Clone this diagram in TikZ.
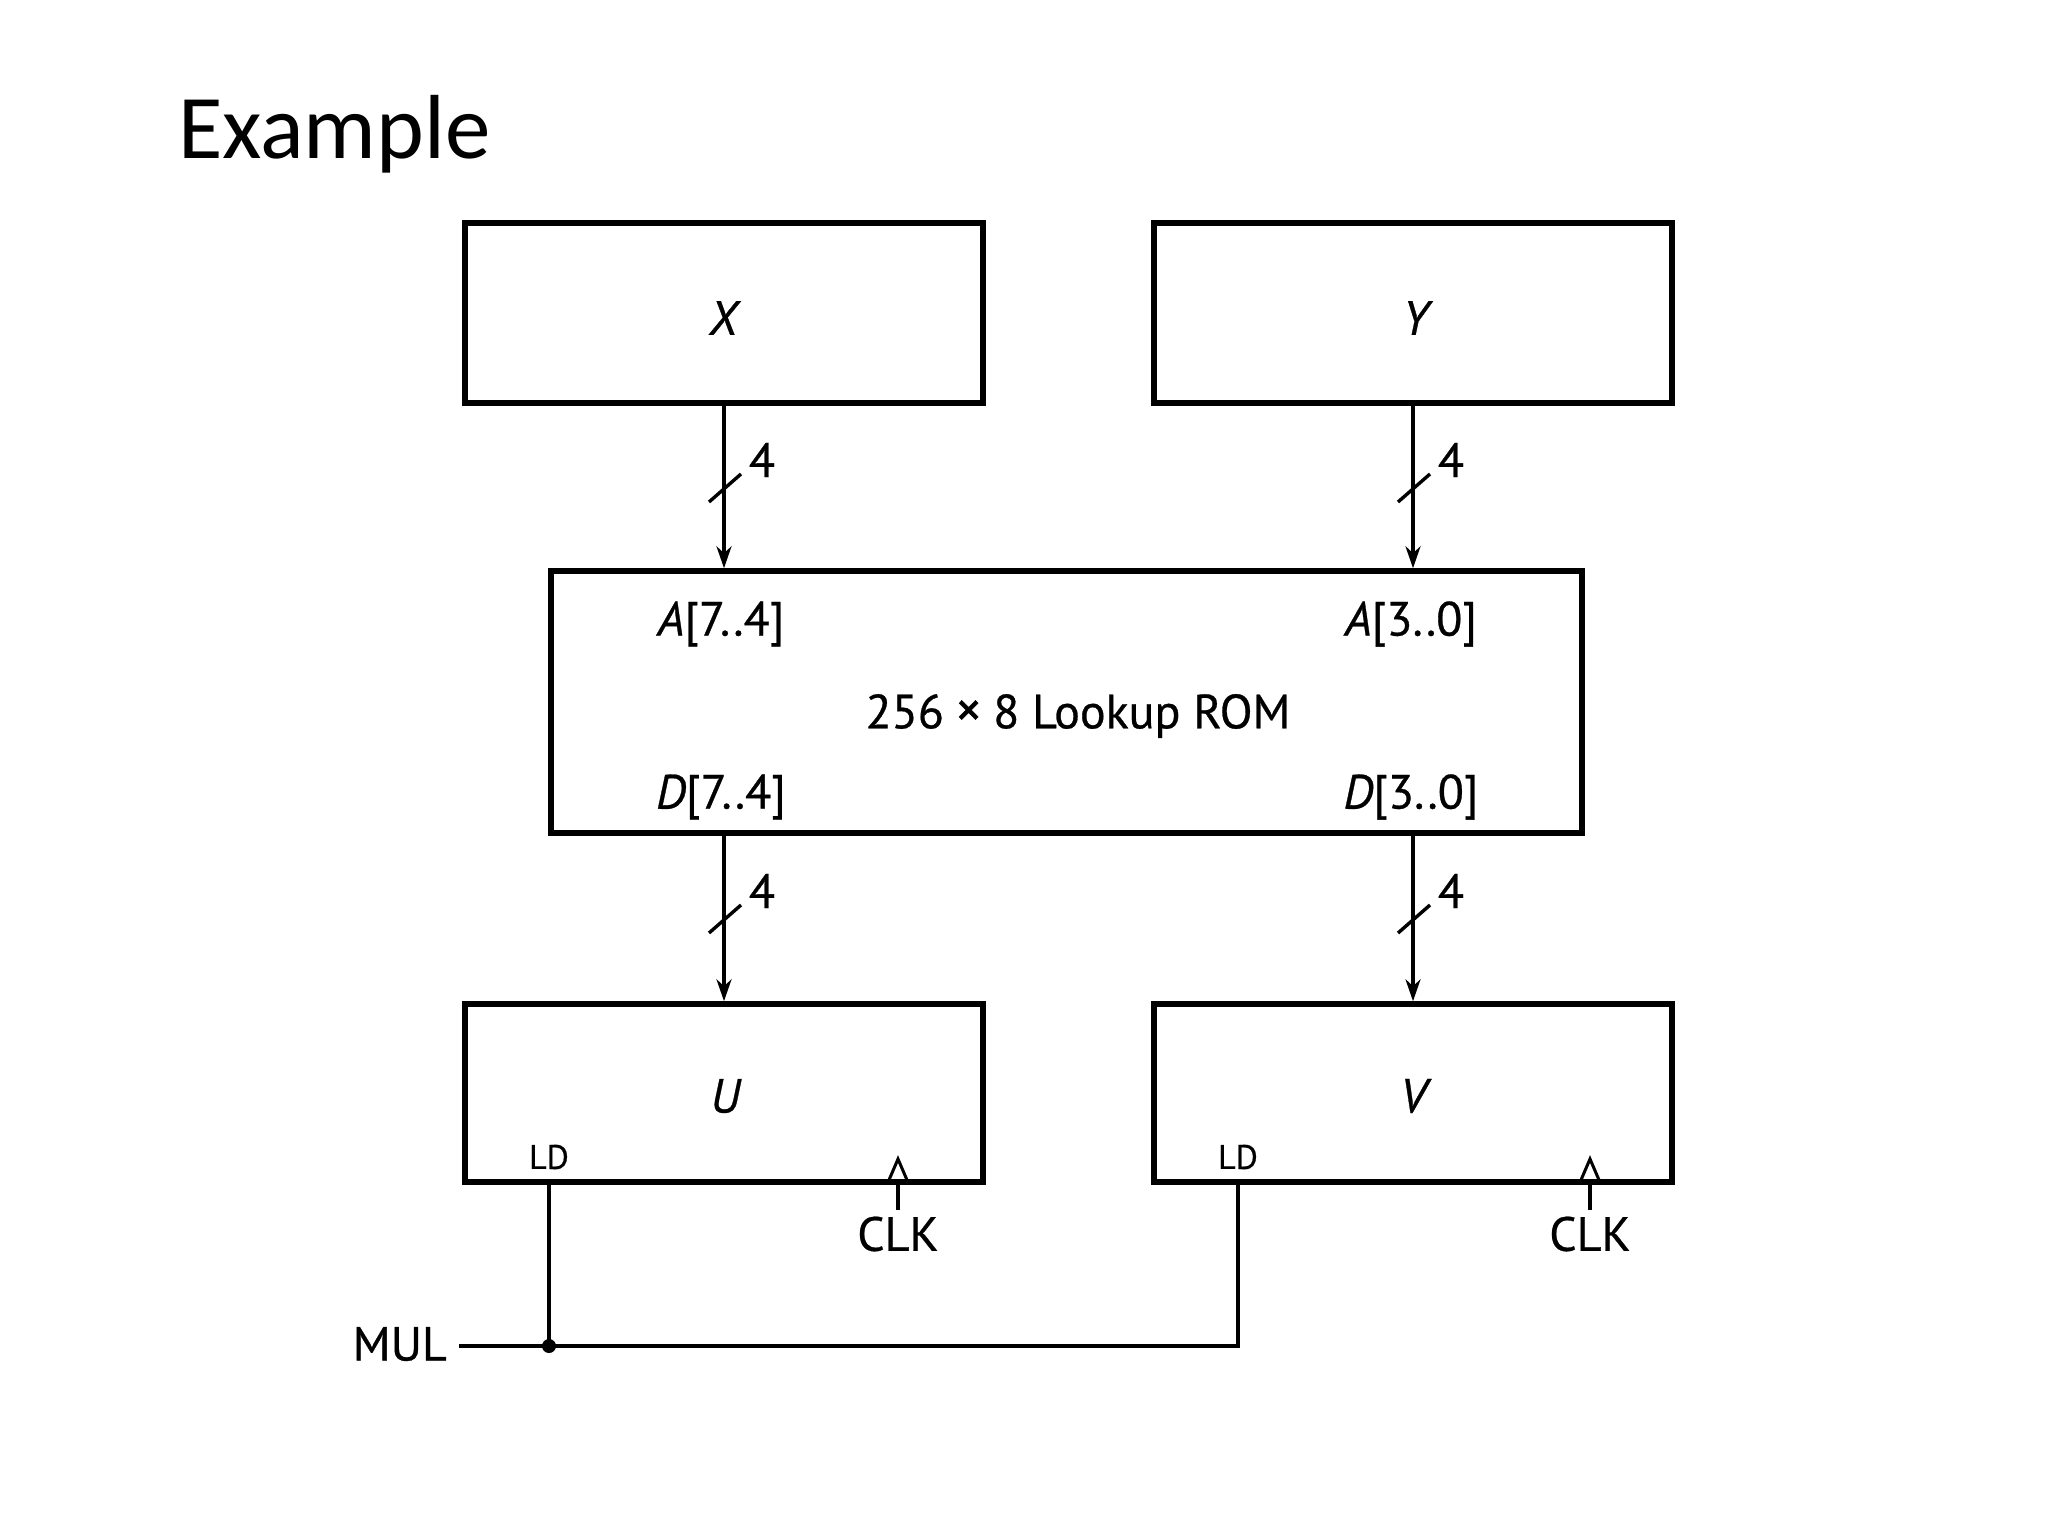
\documentclass[tikz,border=0pt]{standalone}
\usepackage{fontspec}
\setmainfont{PT Sans}[FakeBold=0.6]
\newfontfamily\titlefont{Carlito}
\usetikzlibrary{arrows.meta,calc}
\begin{document}
\begin{tikzpicture}[x=1pt,y=-1pt,
  blk/.style={draw,line width=5.5pt,inner sep=0pt},
  bus/.style={line width=4pt,-{Stealth[length=22pt,width=15pt]}},
  wire/.style={line width=3.4pt},
  lbl/.style={font=\fontsize{48}{52}\selectfont,inner sep=0pt},
  small/.style={font=\fontsize{34}{36}\selectfont,inner sep=0pt}]
\useasboundingbox[fill=white] (0,0) rectangle (2048,1536);
% title
\node[anchor=base west,inner sep=0pt,font=\titlefont\fontsize{91}{100}\selectfont] (title) at (178,159) {Example};
% blocks
\node[blk,minimum width=518pt,minimum height=180pt] (X) at (724,313) {};
\node[blk,minimum width=518pt,minimum height=180pt] (Y) at (1413,313) {};
\node[blk,minimum width=1031pt,minimum height=262pt] (ROM) at (1066.5,702) {};
\node[blk,minimum width=518pt,minimum height=178pt] (U) at (724,1093) {};
\node[blk,minimum width=518pt,minimum height=178pt] (V) at (1413,1093) {};
% block labels
\node[lbl] (xl) at (725,318) {\textit{X}};
\node[lbl] (yl) at (1418,318) {\textit{Y}};
\node[lbl] (ul) at (726,1096) {\textit{U}};
\node[lbl] (vl) at (1416,1096) {\textit{V}};
\node[lbl] (a74) at (721,624) {\textit{A}[7..4]};
\node[lbl] (a30) at (1411,624) {\textit{A}[3..0]};
\node[lbl] (d74) at (721,797) {\textit{D}[7..4]};
\node[lbl] (d30) at (1411,797) {\textit{D}[3..0]};
\node[lbl] (romlbl) at (1078,716) {256\hspace{11pt}{\fontsize{54}{54}\selectfont ×}\hspace{11pt}8 Lookup ROM};
% buses
\draw[bus] (X.south) -- (X.south |- ROM.north);
\draw[bus] (Y.south) -- (Y.south |- ROM.north);
\draw[bus] (ROM.south -| X.south) -- (X.south |- U.north);
\draw[bus] (ROM.south -| Y.south) -- (Y.south |- V.north);
% bus slashes
\foreach \n/\cx/\cy in {s1/725/488, s2/1414/488, s3/725/919, s4/1414/919}{
  \coordinate (\n) at (\cx,\cy);
  \draw[wire] ($(\n)+(-16,14)$) -- ($(\n)+(16,-14)$);
  \node[lbl] at ($(\n)+(37,-28)$) {4};
}
% LD labels
\node[small] (ldul) at (549,1157) {LD};
\node[small] (ldvl) at (1238,1157) {LD};
% clock inputs
\foreach \n/\cx in {cu/898, cv/1590}{
  \coordinate (\n) at (\cx,1180);
  \draw[line width=3pt,line join=miter] ($(\n)+(-9,0)$) -- ($(\n)+(0,-21)$) -- ($(\n)+(9,0)$);
  \node[lbl,inner ysep=6pt] (\n l) at (\cx,1234) {CLK};
  \draw[wire] (\n) -- (\n l.north);
}
% MUL
\node[lbl,anchor=east,inner xsep=12pt] (mul) at (459,1344) {MUL};
\coordinate (ldU) at (549,1182);
\coordinate (ldV) at (1238,1182);
\coordinate (dot) at (549,1346);
\coordinate (turn) at (1238,1346);
\draw[wire] (mul.east |- dot) -- (turn) -- (ldV);
\draw[wire] (ldU) -- (dot);
\fill (dot) circle (7pt);
\end{tikzpicture}
\end{document}
